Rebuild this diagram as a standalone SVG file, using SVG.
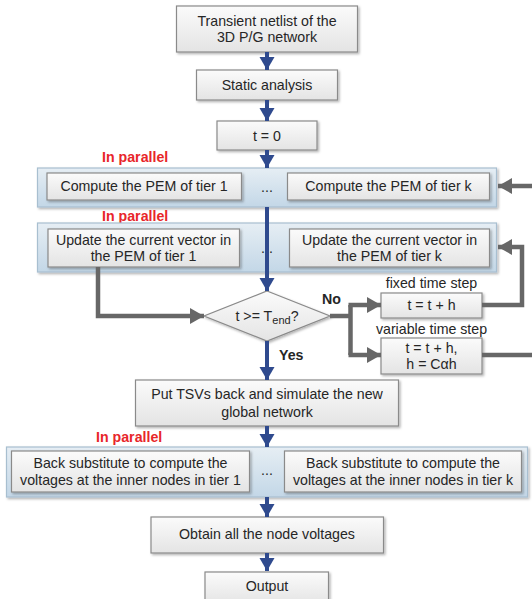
<svg xmlns="http://www.w3.org/2000/svg" width="532" height="599" viewBox="0 0 532 599">
<defs>
<linearGradient id="boxGrad" x1="0" y1="0" x2="0" y2="1">
<stop offset="0" stop-color="#fbfbfb"/>
<stop offset="1" stop-color="#e4e4e4"/>
</linearGradient>
<linearGradient id="panelGrad" x1="0" y1="0" x2="0" y2="1">
<stop offset="0" stop-color="#e6eef4"/>
<stop offset="1" stop-color="#c3d7e7"/>
</linearGradient>
<filter id="shadow" x="-5%" y="-10%" width="110%" height="130%">
<feDropShadow dx="1.5" dy="1.5" stdDeviation="1" flood-color="#000" flood-opacity="0.3"/>
</filter>
<marker id="blueHead" markerUnits="userSpaceOnUse" markerWidth="16" markerHeight="16" refX="13" refY="7.5" orient="auto">
<path d="M0,0 L13,7.5 L0,15 Z" fill="#2f4a8e"/>
</marker>
<marker id="greyHead" markerUnits="userSpaceOnUse" markerWidth="18" markerHeight="18" refX="14" refY="8" orient="auto">
<path d="M0,0 L14,8 L0,16 Z" fill="#676767"/>
</marker>
</defs>
<style>
.box{fill:url(#boxGrad);stroke:#8a8a8a;stroke-width:1.2;filter:url(#shadow)}
.panel{fill:url(#panelGrad);stroke:#a8bfd0;stroke-width:1.2;filter:url(#shadow)}
.t{font-family:"Liberation Sans",Arial,sans-serif;font-size:14.2px;fill:#262626;text-anchor:middle}
.red{font-family:"Liberation Sans",Arial,sans-serif;font-size:14.2px;font-weight:bold;fill:#e8262a}
.b{font-family:"Liberation Sans",Arial,sans-serif;font-size:14.2px;font-weight:bold;fill:#262626}
.blue{fill:none;stroke:#2f4a8e;stroke-width:4;marker-end:url(#blueHead)}
.grey{fill:none;stroke:#676767;stroke-width:4.5;stroke-linejoin:miter}
.greyA{fill:none;stroke:#676767;stroke-width:4.5;stroke-linejoin:miter;marker-end:url(#greyHead)}
</style>

<g id="n-netlist">
<rect class="box" x="176.5" y="6" width="181" height="46"/>
<text class="t" x="267" y="25.5">Transient netlist of the</text>
<text class="t" x="267" y="42">3D P/G network</text>
</g>
<g id="n-static">
<rect class="box" x="196.5" y="70" width="141" height="30"/>
<text class="t" x="267" y="90">Static analysis</text>
</g>
<g id="n-t0">
<rect class="box" x="217" y="121" width="100" height="29"/>
<text class="t" x="267" y="141">t = 0</text>
</g>

<g id="label-par1"><text class="red" x="102" y="162">In parallel</text></g>
<g id="panel-pem">
<rect class="panel" x="37.5" y="168" width="459" height="39"/>
<text class="t" x="267" y="192">...</text>
</g>
<g id="n-pem1">
<rect class="box" x="47" y="173" width="194.5" height="27"/>
<text class="t" x="144" y="191">Compute the PEM of tier 1</text>
</g>
<g id="n-pemk">
<rect class="box" x="287.5" y="173" width="202" height="27"/>
<text class="t" x="388.5" y="191">Compute the PEM of tier k</text>
</g>

<g id="label-par2"><text class="red" x="102" y="221">In parallel</text></g>
<g id="panel-update">
<rect class="panel" x="37.5" y="223" width="459" height="49"/>
<text class="t" x="267" y="253">...</text>
</g>
<g id="n-upd1">
<rect class="box" x="48" y="229" width="191.5" height="38"/>
<text class="t" x="143.5" y="244.5">Update the current vector in</text>
<text class="t" x="143.5" y="261">the PEM of tier 1</text>
</g>
<g id="n-updk">
<rect class="box" x="289.5" y="229" width="200" height="38"/>
<text class="t" x="389.5" y="244.5">Update the current vector in</text>
<text class="t" x="389.5" y="261">the PEM of tier k</text>
</g>

<g id="n-decision">
<path class="box" d="M267,291 L330,316 L267,341 L204,316 Z"/>
<text class="t" x="267" y="321">t &gt;= T<tspan font-size="11" dy="3">end</tspan><tspan dy="-3">?</tspan></text>
</g>

<g id="n-fixed">
<text class="t" x="431.5" y="288">fixed time step</text>
<rect class="box" x="381" y="293" width="101" height="25"/>
<text class="t" x="431.5" y="310">t = t + h</text>
</g>
<g id="n-variable">
<text class="t" x="431.5" y="334">variable time step</text>
<rect class="box" x="381" y="338" width="101" height="36"/>
<text class="t" x="431.5" y="353">t = t + h,</text>
<text class="t" x="431.5" y="369">h = Cαh</text>
</g>

<g id="n-tsv">
<rect class="box" x="135.5" y="380" width="263" height="46"/>
<text class="t" x="267" y="398.5">Put TSVs back and simulate the new</text>
<text class="t" x="267" y="416.5">global network</text>
</g>

<g id="label-par3"><text class="red" x="96" y="442">In parallel</text></g>
<g id="panel-back">
<rect class="panel" x="6.5" y="447" width="521" height="50"/>
<text class="t" x="267" y="475">...</text>
</g>
<g id="n-back1">
<rect class="box" x="11.5" y="451" width="238" height="41"/>
<text class="t" x="130.5" y="467.5">Back substitute to compute the</text>
<text class="t" x="130.5" y="485">voltages at the inner nodes in tier 1</text>
</g>
<g id="n-backk">
<rect class="box" x="284.5" y="451" width="237" height="41"/>
<text class="t" x="403" y="467.5">Back substitute to compute the</text>
<text class="t" x="403" y="485">voltages at the inner nodes in tier k</text>
</g>

<g id="n-obtain">
<rect class="box" x="151" y="517" width="232.5" height="36"/>
<text class="t" x="267" y="539">Obtain all the node voltages</text>
</g>
<g id="n-output">
<rect class="box" x="205" y="572" width="123.5" height="32"/>
<text class="t" x="267" y="591">Output</text>
</g>

<g id="connectors">
<path class="blue" d="M267,52 V70"/>
<path class="blue" d="M267,100 V121"/>
<path class="blue" d="M267,150 V168"/>
<path class="blue" d="M267,207 V291"/>
<path class="blue" d="M267,341 V380"/>
<path class="blue" d="M267,426 V447"/>
<path class="blue" d="M267,497 V517"/>
<path class="blue" d="M267,553 V571"/>
<path class="greyA" d="M98,267 V316 H204"/>
<path class="grey" d="M330,316 H350.5"/>
<path class="grey" d="M350.5,305 V355"/>
<path class="greyA" d="M348.5,305 H381"/>
<path class="greyA" d="M348.5,355 H381"/>
<path class="greyA" d="M482,305 H522 V247 H498"/>
<path class="grey" d="M482,355 H534"/>
<path class="greyA" d="M534,186 H498"/>
<text class="b" x="322" y="304">No</text>
<text class="b" x="279" y="360">Yes</text>
</g>
</svg>
